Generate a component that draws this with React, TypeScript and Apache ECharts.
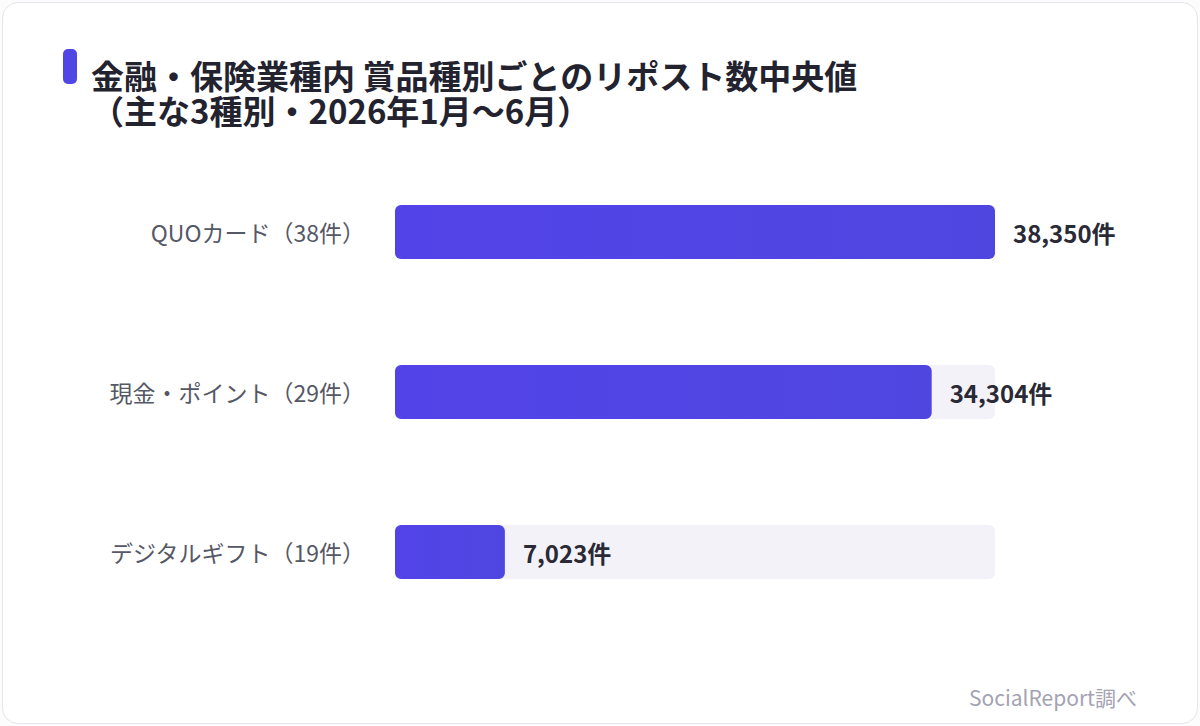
import React, { useEffect, useRef } from "react";
import * as echarts from "echarts";

const categories = ["QUOカード（38件）", "現金・ポイント（29件）", "デジタルギフト（19件）"];
const medianReposts = [38350, 34304, 7023];
const titleLines = ["金融・保険業種内 賞品種別ごとのリポスト数中央値", "（主な3種別・2026年1月〜6月）"];
const sourceText = "SocialReport調べ";

const FONT = "'Noto Sans CJK JP', 'Noto Sans', sans-serif";

export default function App() {
  const ref = useRef<HTMLDivElement>(null);
  useEffect(() => {
    if (!ref.current) return;
    const chart = echarts.init(ref.current, undefined, { renderer: "svg" });
    chart.setOption({
      animation: false,
      textStyle: { fontFamily: FONT },
      graphic: [
        {
          type: "rect",
          shape: { x: 63, y: 49, width: 14, height: 35, r: 5 },
          style: { fill: "#5046e5" },
        },
        {
          type: "text",
          x: 91,
          y: 57.5,
          style: {
            text: titleLines.join("\n"),
            font: `bold 33px ${FONT}`,
            lineHeight: 35,
            fill: "#23232f",
            verticalAlign: "top",
          },
        },
        {
          type: "text",
          x: 1137,
          y: 697,
          style: {
            text: sourceText,
            font: `21px ${FONT}`,
            fill: "#a3a3b3",
            align: "right",
            verticalAlign: "middle",
          },
        },
      ],
      grid: { left: 395, width: 600, top: 152, height: 480, containLabel: false },
      xAxis: {
        type: "value",
        min: 0,
        max: 38350,
        show: false,
      },
      yAxis: {
        type: "category",
        data: categories,
        inverse: true,
        axisLine: { show: false },
        axisTick: { show: false },
        splitLine: { show: false },
        axisLabel: {
          fontSize: 23,
          color: "#555866",
          margin: 30,
          fontFamily: FONT,
        },
      },
      series: [
        {
          type: "bar",
          data: medianReposts,
          barWidth: 54,
          showBackground: true,
          backgroundStyle: { color: "#f3f2f9", borderRadius: 6 },
          itemStyle: {
            borderRadius: 6,
            color: new echarts.graphic.LinearGradient(0, 0, 1, 0, [
              { offset: 0, color: "#5243e8" },
              { offset: 1, color: "#4f46e0" },
            ]),
          },
          label: {
            show: true,
            position: "right",
            distance: 18,
            fontSize: 24,
            fontWeight: "bold",
            color: "#2a2a36",
            fontFamily: FONT,
            formatter: (p: any) => Number(p.value).toLocaleString("en-US") + "件",
          },
        },
      ],
    });
    return () => chart.dispose();
  }, []);
  return (
    <div style={{ position: "absolute", left: 0, top: 0, width: 1200, height: 726, background: "#fcfcfd" }}>
      <div
        style={{
          position: "absolute",
          left: 2,
          top: 2,
          width: 1194,
          height: 720,
          border: "1px solid #e4e4ec",
          borderRadius: 16,
          background: "#ffffff",
          overflow: "hidden",
        }}
      >
        <div ref={ref} style={{ position: "absolute", left: -3, top: -3, width: 1200, height: 726 }} />
      </div>
    </div>
  );
}
